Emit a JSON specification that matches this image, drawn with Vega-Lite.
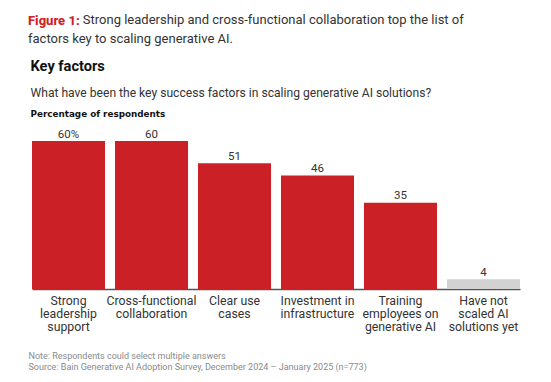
{
  "$schema": "https://vega.github.io/schema/vega-lite/v6.json",
  "width": 488,
  "height": 148,
  "autosize": {"type": "none"},
  "padding": {"left": 32, "top": 141, "right": 31, "bottom": 93},
  "background": "white",
  "config": {"font": "Roboto", "view": {"stroke": null}},
  "data": {
    "values": [
      {"factor": "Strong|leadership|support", "value": 60, "label": "60%", "group": "scaled"},
      {"factor": "Cross-functional|collaboration", "value": 60, "label": "60", "group": "scaled"},
      {"factor": "Clear use|cases", "value": 51, "label": "51", "group": "scaled"},
      {"factor": "Investment in|infrastructure", "value": 46, "label": "46", "group": "scaled"},
      {"factor": "Training|employees on|generative AI", "value": 35, "label": "35", "group": "scaled"},
      {"factor": "Have not|scaled AI|solutions yet", "value": 4, "label": "4", "group": "not scaled"}
    ]
  },
  "title": {
    "text": "Figure 1:",
    "subtitle": ["\u200b\u00a0\u00a0\u00a0\u00a0\u00a0\u00a0\u00a0\u00a0\u00a0\u00a0\u00a0\u00a0\u00a0\u00a0\u00a0\u00a0\u00a0Strong leadership and cross-functional collaboration top the list of", "factors key to scaling generative AI."],
    "anchor": "start",
    "frame": "group",
    "dx": -4,
    "offset": 11,
    "color": "#D01F26",
    "fontSize": 13,
    "fontWeight": 800,
    "subtitleColor": "#333333",
    "subtitleFontSize": 13,
    "subtitleFontWeight": "normal",
    "subtitleLineHeight": 19.5,
    "subtitlePadding": -14
  },
  "layer": [
    {
      "mark": {"type": "bar"},
      "encoding": {
        "x": {
          "field": "factor",
          "type": "nominal",
          "sort": null,
          "scale": {"paddingInner": 0.12, "paddingOuter": 0},
          "axis": {
            "orient": "bottom",
            "labelExpr": "split(datum.label, '|')",
            "labelAngle": 0,
            "labelFontSize": 12.3,
            "labelColor": "#333333",
            "labelLineHeight": 13,
            "labelPadding": 5,
            "labelOverlap": false,
            "labelLimit": 0,
            "ticks": false,
            "domainColor": "#555555",
            "domainWidth": 1.5,
            "grid": false,
            "title": ["Note: Respondents could select multiple answers", "Source: Bain Generative AI Adoption Survey, December 2024 \u2013 January 2025 (n=773)"],
            "titleX": -4,
            "titleY": 69.5,
            "titleAlign": "left",
            "titleAnchor": "start",
            "titleBaseline": "alphabetic",
            "titleFontSize": 9,
            "titleFontWeight": "normal",
            "titleColor": "#8a8a8a",
            "titleLineHeight": 10.5
          }
        },
        "y": {
          "field": "value",
          "type": "quantitative",
          "scale": {"domain": [0, 60]},
          "axis": {
            "orient": "left",
            "domain": false,
            "ticks": false,
            "labels": false,
            "grid": false,
            "title": "Percentage of respondents",
            "titleAngle": 0,
            "titleX": -2,
            "titleY": -24.5,
            "titleAlign": "left",
            "titleAnchor": "start",
            "titleBaseline": "alphabetic",
            "titleFont": "DejaVu Sans",
            "titleFontSize": 8.8,
            "titleFontWeight": "bold",
            "titleColor": "#111111"
          }
        },
        "color": {
          "field": "group",
          "type": "nominal",
          "scale": {"domain": ["scaled", "not scaled"], "range": ["#CC2027", "#D2D2D2"]},
          "legend": null
        }
      }
    },
    {
      "mark": {"type": "text", "baseline": "alphabetic", "dy": -3.5, "fontSize": 11.5, "color": "#333333"},
      "encoding": {
        "x": {
          "field": "factor",
          "type": "nominal",
          "sort": null,
          "axis": {
            "orient": "top",
            "domain": false,
            "ticks": false,
            "labels": false,
            "grid": false,
            "title": "What have been the key success factors in scaling generative AI solutions?",
            "titleX": -2,
            "titleY": -44.5,
            "titleAlign": "left",
            "titleAnchor": "start",
            "titleBaseline": "alphabetic",
            "titleFontSize": 12.1,
            "titleFontWeight": "normal",
            "titleColor": "#333333"
          }
        },
        "y": {
          "field": "value",
          "type": "quantitative",
          "axis": {
            "orient": "right",
            "domain": false,
            "ticks": false,
            "labels": false,
            "grid": false,
            "title": "Key factors",
            "titleAngle": 0,
            "titleX": -490,
            "titleY": -71,
            "titleAlign": "left",
            "titleAnchor": "start",
            "titleBaseline": "alphabetic",
            "titleFontSize": 14.6,
            "titleFontWeight": "bold",
            "titleColor": "#111111"
          }
        },
        "text": {"field": "label"}
      }
    }
  ],
  "resolve": {"axis": {"x": "independent", "y": "independent"}}
}
